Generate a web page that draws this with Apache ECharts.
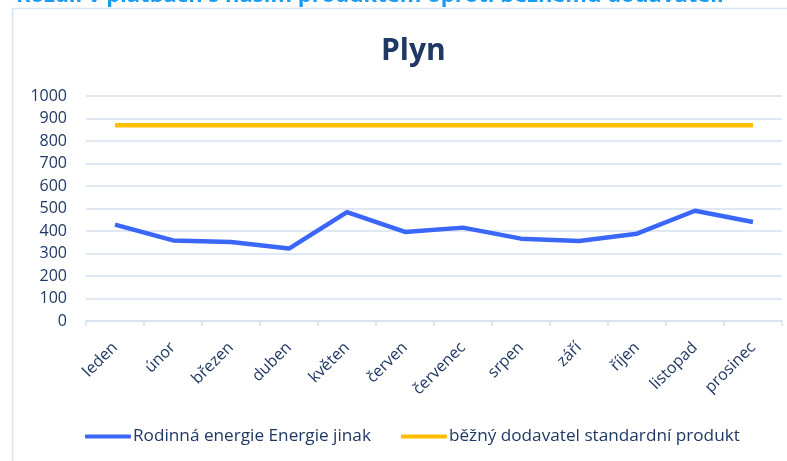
<!DOCTYPE html>
<html>
<head>
<meta charset="utf-8">
<script src="https://cdn.jsdelivr.net/npm/echarts@6/dist/echarts.min.js"></script>
<style>
html, body { margin: 0; padding: 0; background: #fff; }
#chart { width: 787px; height: 461px; }
</style>
</head>
<body>
<div id="chart"></div>
<script>
// data
var months = ['leden', 'únor', 'březen', 'duben', 'květen', 'červen', 'červenec', 'srpen', 'září', 'říjen', 'listopad', 'prosinec'];
var rodinna = [428, 358, 351, 322, 484, 396, 415, 366, 356, 388, 490, 440];
var bezny = [870, 870, 870, 870, 870, 870, 870, 870, 870, 870, 870, 870];
var seriesNames = ['Rodinná energie Energie jinak', 'běžný dodavatel standardní produkt'];

var txt = '#203864';
var gridColor = '#d6e1f1';

var option = {
    animation: false,
    textStyle: { fontFamily: 'Open Sans' },
    graphic: [
        {
            type: 'text', left: 16, top: -15,
            style: { text: 'Rozdíl v platbách s naším produktem oproti běžnému dodavateli', fill: '#1a9cf0', font: 'bold 22px "Open Sans"' }
        },
        {
            type: 'rect', shape: { x: 12.5, y: 8.5, width: 800, height: 480 },
            style: { fill: 'none', stroke: '#d6e4f5', lineWidth: 1.5 }
        }
    ],
    title: {
        text: 'Plyn',
        left: 376,
        top: 31,
        textStyle: { color: txt, fontSize: 30, fontWeight: 'bold', fontFamily: 'Open Sans' }
    },
    legend: {
        bottom: 11,
        left: 80,
        itemWidth: 46,
        itemHeight: 4,
        itemGap: 30,
        icon: 'roundRect',
        textStyle: { color: txt, fontSize: 17.2, padding: [0, 0, 0, -3] },
        data: seriesNames
    },
    grid: { left: 86, right: 5, top: 96, bottom: 140 },
    xAxis: {
        type: 'category',
        data: months,
        boundaryGap: true,
        axisLine: { lineStyle: { color: gridColor, width: 1.5 } },
        axisTick: { show: true, length: 5, lineStyle: { color: gridColor, width: 1.5 } },
        axisLabel: { color: txt, fontSize: 16, rotate: 45, margin: 24 }
    },
    yAxis: {
        type: 'value',
        min: 0, max: 1000, interval: 100,
        axisLine: { show: false },
        axisTick: { show: false },
        splitLine: { lineStyle: { color: gridColor, width: 1.5 } },
        axisLabel: { color: txt, fontSize: 16, margin: 19, formatter: function (v) { return String(v); } }
    },
    series: [
        {
            name: seriesNames[0], type: 'line', data: rodinna,
            symbol: 'none', lineStyle: { color: '#3a67f7', width: 4.5 }, itemStyle: { color: '#3a67f7' }
        },
        {
            name: seriesNames[1], type: 'line', data: bezny,
            symbol: 'none', lineStyle: { color: '#ffbd00', width: 4.5 }, itemStyle: { color: '#ffbd00' }
        }
    ]
};

var myChart = echarts.init(document.getElementById('chart'));
myChart.setOption(option);
</script>
</body>
</html>
